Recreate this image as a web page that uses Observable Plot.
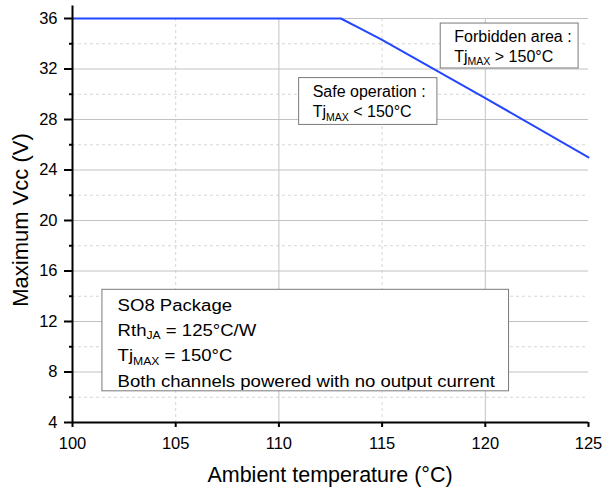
<!DOCTYPE html>
<html>
<head>
<meta charset="utf-8">
<script src="https://cdn.jsdelivr.net/npm/d3@7"></script>
<script src="https://cdn.jsdelivr.net/npm/@observablehq/plot@0.6"></script>
<style>
  html, body { margin: 0; padding: 0; background: #fff; }
  svg text { font-family: "Liberation Sans", Arial, sans-serif; }
</style>
</head>
<body>
<div id="chart"></div>
<script>
// ---- data ----
const temperature = [100, 113, 114, 115, 120, 125];
const maxVcc      = [36, 36, 35.15, 34.3, 29.7, 25];
const xTicks      = [100, 105, 110, 115, 120, 125];
const xGridMajor  = [110, 120];
const xGridMinor  = [105, 115];
const yTicks      = [4, 8, 12, 16, 20, 24, 28, 32, 36];
const yTicksMinor = [6, 10, 14, 18, 22, 26, 30, 34];
const yGridMajor  = [8, 12, 16, 20, 24, 28, 32, 36];
const xTitle = "Ambient temperature (°C)";
const yTitle = "Maximum Vcc (V)";

const series = temperature.map((t, i) => ({t, v: maxVcc[i]}));

// annotation boxes (data coordinates)
const boxes = [
  {x1: 117.84, x2: 124.52, y1: 32.04, y2: 35.60},
  {x1: 110.98, x2: 117.68, y1: 27.57, y2: 31.28},
  {x1: 101.45, x2: 121.15, y1: 6.47,  y2: 14.51}
];
const notes = [
  {x: 118.52, y: 34.10, sx: 1, parts: [["Forbidden area :"]]},
  {x: 118.52, y: 32.52, sx: 1, parts: [["Tj"], ["MAX", "sub"], [" > 150°C"]]},
  {x: 111.66, y: 29.75, sx: 1, parts: [["Safe operation :"]]},
  {x: 111.66, y: 28.12, sx: 1, parts: [["Tj"], ["MAX", "sub"], [" < 150°C"]]},
  {x: 102.21, y: 12.82, sx: 1.16, parts: [["SO8 Package"]]},
  {x: 102.21, y: 10.84, sx: 1.16, parts: [["Rth"], ["JA", "sub"], [" = 125°C/W"]]},
  {x: 102.21, y: 8.82,  sx: 1.16, parts: [["Tj"], ["MAX", "sub"], [" = 150°C"]]},
  {x: 102.21, y: 6.81,  sx: 1.16, parts: [["Both channels powered with no output current"]]}
];

const chart = Plot.plot({
  width: 605,
  height: 493,
  marginLeft: 72,
  marginRight: 17,
  marginTop: 18,
  marginBottom: 71,
  style: {fontFamily: '"Liberation Sans", Arial, sans-serif', fontSize: "16.5px", color: "#000", background: "#fff", overflow: "visible"},
  x: {domain: [100, 125]},
  y: {domain: [4, 36]},
  marks: [
    Plot.ruleY(yTicksMinor, {stroke: "#d6d6d6", strokeDasharray: "3,3"}),
    Plot.ruleX(xGridMinor, {stroke: "#d6d6d6", strokeDasharray: "3,3"}),
    Plot.ruleY(yGridMajor, {stroke: "#c2c2c2"}),
    Plot.ruleX(xGridMajor, {stroke: "#c2c2c2"}),
    Plot.rect(boxes, {x1: "x1", x2: "x2", y1: "y1", y2: "y2", fill: "white", stroke: "#7a7a7a", strokeWidth: 1}),
    Plot.line(series, {x: "t", y: "v", stroke: "#2346ff", strokeWidth: 2}),
    Plot.ruleX([100], {y1: 4, y2: 37, stroke: "black", strokeWidth: 2}),
    Plot.ruleY([4], {stroke: "black", strokeWidth: 2}),
    Plot.axisX({ticks: xTicks, tickSize: 5, tickPadding: 10, strokeWidth: 2, label: null, tickFormat: d => String(d)}),
    Plot.axisY({ticks: yTicks, tickSize: 8, tickPadding: 7, strokeWidth: 2, label: null, tickFormat: d => String(d)}),
    Plot.axisY({ticks: yTicksMinor, tickSize: 3, strokeWidth: 2, label: null, tickFormat: () => ""})
  ]
});

document.getElementById("chart").appendChild(chart);

const xs = chart.scale("x"), ys = chart.scale("y");
const svg = d3.select(chart);

// axis titles
const xr = xs.range, yr = ys.range;
svg.append("text")
  .attr("x", (xr[0] + xr[1]) / 2)
  .attr("y", yr[0] + 60)
  .attr("text-anchor", "middle")
  .attr("font-size", "21.5px")
  .attr("fill", "#000")
  .text(xTitle);
svg.append("text")
  .attr("transform", `translate(${xr[0] - 44},${(yr[0] + yr[1]) / 2}) rotate(-90)`)
  .attr("text-anchor", "middle")
  .attr("font-size", "22px")
  .attr("fill", "#000")
  .text(yTitle);

// annotation texts with subscripts
for (const n of notes) {
  const g = svg.append("g")
    .attr("text-anchor", "start")
    .attr("transform", `translate(${xs.apply(n.x)},${ys.apply(n.y)}) scale(${n.sx},1)`);
  const t = g.append("text").attr("text-anchor", "start").attr("font-size", "16px").attr("fill", "#000");
  let shifted = false;
  for (const [s, kind] of n.parts) {
    const sp = t.append("tspan").text(s);
    if (kind === "sub") {
      sp.attr("font-size", "10.5px").attr("dy", 3.5);
      shifted = true;
    } else if (shifted) {
      sp.attr("dy", -3.5);
      shifted = false;
    }
  }
}
</script>
</body>
</html>
